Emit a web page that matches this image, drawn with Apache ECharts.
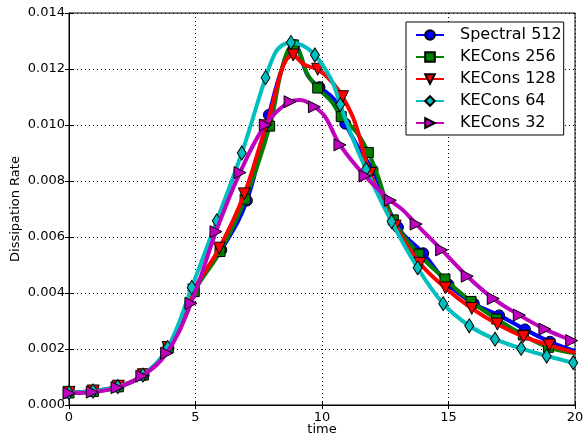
<!DOCTYPE html>
<html>
<head>
<meta charset="utf-8">
<script src="https://cdn.jsdelivr.net/npm/echarts@6/dist/echarts.min.js"></script>
<style>html,body{margin:0;padding:0;background:#fff}#c{width:584px;height:437px}</style>
</head>
<body>
<div id="c"></div>
<script>
// Series names
const seriesNames = ['Spectral 512', 'KECons 256', 'KECons 128', 'KECons 64', 'KECons 32'];
const xTicks = [0, 5, 10, 15, 20];
const yTicks = [0.000, 0.002, 0.004, 0.006, 0.008, 0.010, 0.012, 0.014];

// Spectral 512 (markers)
const spec512T = [0, 0.98, 1.96, 2.95, 3.93, 4.92, 6.02, 7.03, 7.9, 8.9, 9.9, 10.92, 12.0, 13.0, 14.0, 15.0, 16.0, 17.0, 18.02, 19.01];
const spec512V = [0.00045, 0.00049, 0.00066, 0.00107, 0.00203, 0.0041, 0.00554, 0.0073, 0.01036, 0.01285, 0.01135, 0.01005, 0.0084, 0.00635, 0.00542, 0.0043, 0.00362, 0.0032, 0.0027, 0.00226];
// Spectral 512 (curve-only points)
const spec512CurveT = [8.45, 9.46, 10.5, 11.5, 20];
const spec512CurveV = [0.0121, 0.01173, 0.0109, 0.0091, 0.00193];

// KECons 256
const ke256T = [0, 0.96, 1.95, 2.94, 3.92, 4.95, 5.97, 6.96, 7.93, 8.87, 9.83, 10.76, 11.83, 12.82, 13.83, 14.86, 15.89, 16.9, 17.96, 18.95];
const ke256V = [0.00043, 0.00048, 0.00065, 0.00107, 0.00203, 0.00405, 0.00548, 0.00735, 0.00996, 0.01286, 0.01132, 0.0103, 0.00902, 0.00661, 0.00539, 0.0045, 0.0037, 0.00307, 0.0025, 0.00206];
const ke256CurveT = [8.47, 9.13, 9.4, 10.38, 11.4, 12.2, 20];
const ke256CurveV = [0.0122, 0.01256, 0.01185, 0.01083, 0.0097, 0.0082, 0.00185];

// KECons 128
const ke128T = [0, 0.96, 1.95, 2.94, 3.92, 4.93, 5.94, 6.93, 7.8, 8.86, 9.83, 10.81, 11.9, 12.89, 13.87, 14.88, 15.92, 16.93, 17.96, 18.98];
const ke128V = [0.00045, 0.0005, 0.00067, 0.00108, 0.00205, 0.0041, 0.0056, 0.00754, 0.00997, 0.0125, 0.01199, 0.01101, 0.00827, 0.00639, 0.00506, 0.00418, 0.00345, 0.00289, 0.00244, 0.00214];
const ke128CurveT = [9.33, 10.38, 11.3, 20];
const ke128CurveV = [0.01214, 0.01155, 0.0101, 0.00187];

// KECons 64
const ke64T = [0, 0.95, 1.93, 2.92, 3.9, 4.85, 5.84, 6.83, 7.77, 8.77, 9.72, 10.72, 11.74, 12.75, 13.78, 14.79, 15.82, 16.84, 17.87, 18.88, 19.93];
const ke64V = [0.00044, 0.0005, 0.00066, 0.00107, 0.00205, 0.0042, 0.00658, 0.009, 0.01169, 0.01295, 0.0125, 0.01073, 0.00842, 0.00655, 0.0049, 0.00362, 0.00283, 0.00235, 0.00202, 0.00175, 0.00151];
const ke64CurveT = [8.14, 8.41, 9.2, 10.38, 11.24, 20];
const ke64CurveV = [0.01256, 0.01284, 0.01286, 0.0116, 0.00946, 0.0015];

// KECons 32
const ke32T = [0, 0.92, 1.9, 2.88, 3.86, 4.82, 5.81, 6.76, 7.76, 8.74, 9.7, 10.71, 11.7, 12.7, 13.72, 14.73, 15.74, 16.77, 17.8, 18.81, 19.87];
const ke32V = [0.00042, 0.00046, 0.00062, 0.00103, 0.00185, 0.00363, 0.00619, 0.0083, 0.01, 0.01083, 0.01065, 0.00929, 0.00818, 0.00731, 0.00646, 0.00554, 0.0046, 0.0038, 0.00321, 0.00271, 0.0023];
const ke32CurveT = [9.13, 10.12, 13.2, 20];
const ke32CurveV = [0.01089, 0.0103, 0.00696, 0.00225];

const markerT = [spec512T, ke256T, ke128T, ke64T, ke32T];
const markerV = [spec512V, ke256V, ke128V, ke64V, ke32V];
const curveT = [spec512CurveT, ke256CurveT, ke128CurveT, ke64CurveT, ke32CurveT];
const curveV = [spec512CurveV, ke256CurveV, ke128CurveV, ke64CurveV, ke32CurveV];

const colors = ['#0000ff', '#008000', '#ff0000', '#00bfbf', '#bf00bf'];
const symbols = ['circle', 'rect', 'triangle', 'diamond', 'triangle'];
const symRot = [0, 0, 180, 0, -90];
const symSize = [11, 10, 12, [9, 14], 12];

function buildData(i) {
  const pts = [];
  markerT[i].forEach((t, k) => pts.push({ value: [t, markerV[i][k]] }));
  curveT[i].forEach((t, k) => pts.push({ value: [t, curveV[i][k]], symbol: 'none' }));
  pts.sort((a, b) => a.value[0] - b.value[0]);
  return pts;
}

const series = seriesNames.map((name, i) => ({
  name: name,
  type: 'line',
  data: buildData(i),
  smooth: 0.4,
  showSymbol: true,
  symbol: symbols[i],
  symbolRotate: symRot[i],
  symbolSize: symSize[i],
  lineStyle: { color: colors[i], width: 4 },
  itemStyle: { color: colors[i], borderColor: '#000', borderWidth: 1 },
  z: 2 + i,
  animation: false
}));

const chart = echarts.init(document.getElementById('c'), null, { renderer: 'canvas' });
const fontFam = 'DejaVu Sans';
chart.setOption({
  animation: false,
  textStyle: { fontFamily: fontFam },
  grid: { left: 69, right: 9, top: 13, bottom: 32, show: true, borderColor: '#000', borderWidth: 1, backgroundColor: '#fff', containLabel: false, outerBoundsMode: 'none' },
  legend: {
    orient: 'vertical',
    left: 406,
    top: 22,
    backgroundColor: '#fff',
    borderColor: '#000',
    borderWidth: 1,
    borderRadius: 0,
    padding: [5, 2, 4, 9],
    itemWidth: 28,
    itemHeight: 12,
    itemGap: 6,
    textStyle: { fontSize: 16, lineHeight: 16, color: '#000', fontFamily: fontFam, padding: [0, 0, 0, 11] },
    data: seriesNames
  },
  xAxis: [{
    type: 'value', min: xTicks[0], max: xTicks[xTicks.length - 1], interval: 5,
    name: 'time', nameLocation: 'middle', nameGap: 18, nameMoveOverlap: false,
    nameTextStyle: { fontSize: 13, color: '#000', fontFamily: fontFam },
    axisLine: { show: true, lineStyle: { color: '#000', width: 1 } },
    axisTick: { show: true, inside: true, length: 4, lineStyle: { color: '#000' } },
    axisLabel: { fontSize: 13, color: '#000', margin: 6, fontFamily: fontFam },
    splitLine: { show: true, lineStyle: { color: '#000', type: [1, 3], width: 1 } }
  }, {
    type: 'value', position: 'top', min: 0, max: 20, interval: 5,
    axisLine: { show: false }, axisLabel: { show: false },
    axisTick: { show: true, inside: true, length: 4, lineStyle: { color: '#000' } },
    splitLine: { show: false }
  }],
  yAxis: [{
    type: 'value', min: yTicks[0], max: yTicks[yTicks.length - 1], interval: 0.002,
    name: 'Dissipation Rate', nameLocation: 'middle', nameGap: 47, nameMoveOverlap: false,
    nameTextStyle: { fontSize: 13, color: '#000', fontFamily: fontFam },
    axisLine: { show: true, lineStyle: { color: '#000', width: 1 } },
    axisTick: { show: true, inside: true, length: 4, lineStyle: { color: '#000' } },
    axisLabel: { fontSize: 13, color: '#000', margin: 4, fontFamily: fontFam, formatter: v => v.toFixed(3) },
    splitLine: { show: true, lineStyle: { color: '#000', type: [1, 3], width: 1 } }
  }, {
    type: 'value', position: 'right', min: 0, max: 0.014, interval: 0.002,
    axisLine: { show: false }, axisLabel: { show: false },
    axisTick: { show: true, inside: true, length: 4, lineStyle: { color: '#000' } },
    splitLine: { show: false }
  }],
  series: series
});
</script>
</body>
</html>
